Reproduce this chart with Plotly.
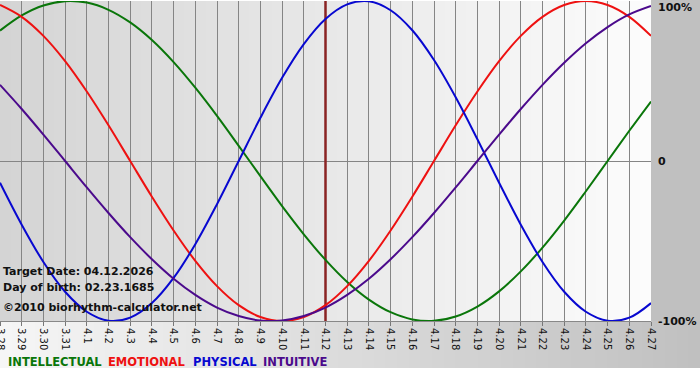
import plotly.graph_objects as go

# ---- data ----
dates = ["3.28", "3.29", "3.30", "3.31", "4.1", "4.2", "4.3", "4.4", "4.5", "4.6",
         "4.7", "4.8", "4.9", "4.10", "4.11", "4.12", "4.13", "4.14", "4.15", "4.16",
         "4.17", "4.18", "4.19", "4.20", "4.21", "4.22", "4.23", "4.24", "4.25", "4.26", "4.27"]

intellectual = [0.815, 0.910, 0.972, 0.999, 0.990, 0.945, 0.866, 0.756, 0.618, 0.458,
                0.282, 0.095, -0.095, -0.282, -0.458, -0.618, -0.756, -0.866, -0.945, -0.990,
                -0.999, -0.972, -0.910, -0.815, -0.690, -0.541, -0.372, -0.189, 0.0, 0.189, 0.372]
emotional = [0.975, 0.901, 0.782, 0.624, 0.434, 0.223, 0.0, -0.223, -0.434, -0.624,
             -0.782, -0.901, -0.975, -1.0, -0.975, -0.901, -0.782, -0.624, -0.434, -0.223,
             0.0, 0.223, 0.434, 0.624, 0.782, 0.901, 0.975, 1.0, 0.975, 0.901, 0.782]
physical = [-0.136, -0.398, -0.631, -0.817, -0.942, -0.998, -0.979, -0.888, -0.731, -0.520,
            -0.270, 0.0, 0.270, 0.520, 0.731, 0.888, 0.979, 0.998, 0.942, 0.817,
            0.631, 0.398, 0.136, -0.136, -0.398, -0.631, -0.817, -0.942, -0.998, -0.979, -0.888]
intuitive = [0.476, 0.325, 0.165, 0.0, -0.165, -0.325, -0.476, -0.614, -0.736, -0.837,
             -0.916, -0.969, -0.997, -0.997, -0.969, -0.916, -0.837, -0.736, -0.614, -0.476,
             -0.325, -0.165, 0.0, 0.165, 0.325, 0.476, 0.614, 0.736, 0.837, 0.916, 0.969]

series_names = ["INTELLECTUAL", "EMOTIONAL", "PHYSICAL", "INTUITIVE"]
series_colors = ["#0a760a", "#ee1111", "#0808d0", "#4b0a8c"]
series_values = [intellectual, emotional, physical, intuitive]

target_label = "4.12"
y_tick_vals = [1, 0, -1]
y_tick_text = ["100%", "0", "-100%"]
info_lines = ["Target Date: 04.12.2026", "Day of birth: 02.23.1685"]
copyright_text = "©2010 biorhythm-calculator.net"

# ---- geometry helpers (pixels -> paper) ----
W, H = 700, 380
PL, PR, PT, PB = 0, 651, 1, 321  # plot area in px


def px_x(px):
    return (px - PL) / (PR - PL)


def px_y(py):
    return (PB - py) / (PB - PT)


def lerp_color(c1, c2, t):
    r = [round(c1[i] + (c2[i] - c1[i]) * t) for i in range(3)]
    return "rgb(%d,%d,%d)" % tuple(r)


xs = list(range(len(dates)))
fig = go.Figure()

for name, col, vals in zip(series_names, series_colors, series_values):
    fig.add_trace(go.Scatter(x=xs, y=vals, mode="lines", name=name,
                             line=dict(color=col, width=2, shape="spline", smoothing=1.0),
                             hoverinfo="skip", cliponaxis=True))

shapes = []
# plot-area horizontal gradient
N = 60
for i in range(N):
    t = (i + 0.5) / N
    shapes.append(dict(type="rect", xref="paper", yref="paper", layer="below",
                       x0=i / N, x1=(i + 1) / N + 0.002, y0=0, y1=1,
                       fillcolor=lerp_color((212, 212, 212), (252, 252, 252), t),
                       line=dict(width=0)))
# right gray panel
shapes.append(dict(type="rect", xref="paper", yref="paper", layer="below",
                   x0=1, x1=px_x(W + 5), y0=px_y(321), y1=px_y(-5),
                   fillcolor="#c0c0c0", line=dict(width=0)))
# bottom gradient band
for i in range(N):
    t = (i + 0.5) / N
    x0 = px_x(W * i / N)
    x1 = px_x(W * (i + 1) / N + 1)
    shapes.append(dict(type="rect", xref="paper", yref="paper", layer="below",
                       x0=x0, x1=x1, y0=px_y(368), y1=px_y(321),
                       fillcolor=lerp_color((246, 246, 246), (192, 192, 192), t),
                       line=dict(width=0)))
# target date line
tx = dates.index(target_label)
shapes.append(dict(type="line", xref="x", yref="y", layer="between",
                   x0=tx, x1=tx, y0=-1, y1=1,
                   line=dict(color="#8a2323", width=2.5)))

annotations = []
for v, t in zip(y_tick_vals, y_tick_text):
    annotations.append(dict(x=px_x(656), xref="paper", y=v, yref="y", text="<b>%s</b>" % t,
                            showarrow=False, xanchor="left", yanchor="middle",
                            yshift=-6 if v == 1 else 0,
                            font=dict(family="DejaVu Sans", size=11, color="#111"),
                            ))
for i, line in enumerate(info_lines):
    annotations.append(dict(x=px_x(1), xref="paper", y=px_y(271 + 16 * i), yref="paper",
                            text="<b>%s</b>" % line, showarrow=False,
                            xanchor="left", yanchor="middle",
                            font=dict(family="DejaVu Sans", size=11, color="#111")))
annotations.append(dict(x=px_x(1), xref="paper", y=px_y(307), yref="paper",
                        text="<b>%s</b>" % copyright_text, showarrow=False,
                        xanchor="left", yanchor="middle",
                        font=dict(family="DejaVu Sans", size=11, color="#111")))
# legend words
legend_x = [6, 106, 191, 261]
for name, col, lx in zip(series_names, series_colors, legend_x):
    annotations.append(dict(x=px_x(lx), xref="paper", y=px_y(362), yref="paper",
                            text="<b>%s</b>" % name, showarrow=False,
                            xanchor="left", yanchor="middle",
                            font=dict(family="DejaVu Sans", size=11.5, color=col)))

fig.update_layout(
    width=W, height=H,
    margin=dict(l=PL, r=W - PR, t=PT, b=H - PB, pad=0, autoexpand=False),
    paper_bgcolor="white", plot_bgcolor="rgba(0,0,0,0)",
    showlegend=False,
    shapes=shapes, annotations=annotations,
    xaxis=dict(range=[0, len(dates) - 1], tickmode="array", tickvals=xs, ticktext=dates,
               tickangle=90, ticks="outside", ticklen=4, tickcolor="#777",
               showgrid=True, gridcolor="#858585", gridwidth=1,
               showline=True, linecolor="#888", linewidth=1,
               zeroline=False, fixedrange=True, automargin=False,
               ticklabeloverflow="allow",
               tickfont=dict(family="DejaVu Sans", size=10, color="#111")),
    yaxis=dict(range=[-1, 1], showgrid=False, showticklabels=False,
               zeroline=True, zerolinecolor="#858585", zerolinewidth=1,
               fixedrange=True, automargin=False),
)

fig.write_html("out.html", config={"displayModeBar": False},
               post_script="document.body.style.margin='0';document.body.style.padding='0';"
                           "document.body.style.overflow='hidden';")
